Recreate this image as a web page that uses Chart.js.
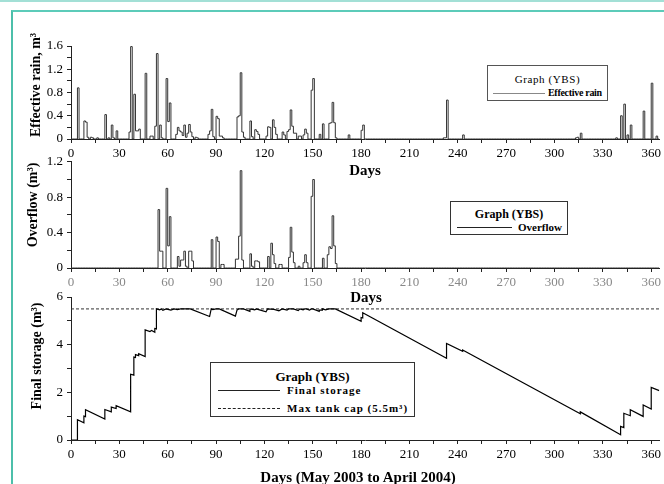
<!DOCTYPE html>
<html>
<head>
<meta charset="utf-8">
<script src="https://cdn.jsdelivr.net/npm/chart.js@4.4.1/dist/chart.umd.min.js"></script>
<style>
  body { margin: 0; background: #fff; }
  #page { position: relative; width: 664px; height: 484px; overflow: hidden; background: #fff;
          font-family: "Liberation Serif", "DejaVu Serif", serif; color: #000; }
  canvas { position: absolute; left: 0; }
  .band { position: absolute; left: 0; top: 0; width: 664px; height: 2px; background: #a3e0d6; }
  .frame { position: absolute; left: 11px; top: 10px; width: 670px; height: 490px;
           border-left: 2px solid #4cbfaa; border-top: 2px solid #5ccbb9; }
  .ytitle { position: absolute; font-weight: bold; font-size: 14px; white-space: nowrap;
            transform: translate(-50%, -50%) rotate(-90deg); z-index: 5; }
  .xtitle { position: absolute; font-weight: bold; font-size: 15px; white-space: nowrap;
            transform: translate(-50%, -50%); z-index: 5; }
  .legend { position: absolute; border: 1px solid #333; background: #fff; box-sizing: border-box; z-index: 6; }
  .legend .ttl { position: absolute; left: 0; right: 0; text-align: center; white-space: nowrap;
                 line-height: 14px; height: 14px; }
  .legend .row { position: absolute; display: flex; align-items: center; height: 14px; white-space: nowrap; }
  .legend .smp { display: block; height: 0; flex: none; }
  .legend .lbl { display: block; font-weight: bold; line-height: 14px; }
</style>
</head>
<body>
<div id="page">
  <div class="band"></div>
  <div class="frame"></div>

  <canvas id="rainChart" width="664" height="170" style="top:0px"></canvas>
  <canvas id="overflowChart" width="664" height="140" style="top:150px"></canvas>
  <canvas id="storageChart" width="664" height="199" style="top:285px"></canvas>

  <div class="ytitle" style="left:36px;top:85px">Effective rain, m³</div>
  <div class="ytitle" style="left:33px;top:205px">Overflow (m³)</div>
  <div class="ytitle" style="left:37px;top:356px">Final storage (m³)</div>

  <div class="xtitle" style="left:365px;top:170px">Days</div>
  <div class="xtitle" style="left:366px;top:297px">Days</div>
  <div class="xtitle" style="left:358px;top:477px">Days (May 2003 to April 2004)</div>

  <div class="legend" style="left:487px;top:65px;width:121px;height:36px;border-color:#555">
    <div class="ttl" style="top:6px;font-size:11px;letter-spacing:0.6px">Graph (YBS)</div>
    <div class="row" style="left:5px;top:20px">
      <span class="smp" style="width:52px;border-top:1px solid #888;margin-right:3px"></span>
      <span class="lbl" style="font-size:10px;letter-spacing:-0.3px">Effective rain</span>
    </div>
  </div>

  <div class="legend" style="left:450px;top:201px;width:118px;height:34px">
    <div class="ttl" style="top:5px;font-size:12px;font-weight:bold">Graph (YBS)</div>
    <div class="row" style="left:6px;top:18px">
      <span class="smp" style="width:55px;border-top:1px solid #222;margin-right:6px"></span>
      <span class="lbl" style="font-size:11px">Overflow</span>
    </div>
  </div>

  <div class="legend" style="left:210px;top:362px;width:205px;height:55px">
    <div class="ttl" style="top:7px;font-size:13px;font-weight:bold">Graph (YBS)</div>
    <div class="row" style="left:7px;top:20px">
      <span class="smp" style="width:62px;border-top:1px solid #222;margin-right:7px"></span>
      <span class="lbl" style="font-size:11px;letter-spacing:1px">Final storage</span>
    </div>
    <div class="row" style="left:7px;top:38px">
      <span class="smp" style="width:62px;border-top:1px dashed #222;margin-right:7px"></span>
      <span class="lbl" style="font-size:11px;letter-spacing:1px">Max tank cap (5.5m³)</span>
    </div>
  </div>
</div>

<script>
// days of the year with rain / overflow (all other days are zero)
var rainDays = [4, 8, 9, 10, 12, 13, 16, 21, 23, 25, 26, 28, 36, 37, 39, 40, 41, 42, 46, 49, 50, 52, 53, 55, 56,
    59, 60, 61, 65, 66, 67, 68, 69, 70, 71, 72, 73, 74, 75, 77, 78, 85, 86, 87, 88, 90, 91, 92, 93, 94,
    103, 104, 105, 106, 107, 111, 112, 114, 115, 116, 121, 122, 123, 125, 126, 127, 131, 132, 134, 135,
    136, 137, 138, 139, 141, 142, 144, 145, 146, 149, 150, 154, 156, 160, 161, 162, 163, 164, 172, 180, 181,
    231, 232, 233, 243, 313, 314, 316, 338, 341, 343, 345, 347, 355, 360, 363];
var rainValues = [0.88, 0.31, 0.29, 0.03, 0.03, 0.02, 0.02, 0.42, 0.02, 0.24, 0.02, 0.14, 0.12, 1.59, 0.77, 0.14, 0.14, 0.17, 1.13, 0.05, 0.05, 0.22, 1.47, 0.24, 0.02,
    1.04, 0.3, 0.62, 0.08, 0.2, 0.14, 0.12, 0.06, 0.24, 0.03, 0.1, 0.25, 0.12, 0.04, 0.03, 0.02, 0.08, 0.14, 0.51, 0.04, 0.39, 0.35, 0.05, 0.05, 0.02,
    0.38, 0.4, 1.14, 0.12, 0.03, 0.31, 0.04, 0.16, 0.13, 0.08, 0.05, 0.21, 0.2, 0.33, 0.2, 0.08, 0.12, 0.07, 0.13, 0.16,
    0.5, 0.22, 0.1, 0.1, 0.05, 0.05, 0.07, 0.17, 0.1, 0.84, 1.04, 0.08, 0.26, 0.27, 0.28, 0.63, 0.28, 0.02, 0.07, 0.15, 0.24,
    0.02, 0.02, 0.67, 0.07, 0.02, 0.03, 0.1, 0.02, 0.4, 0.6, 0.07, 0.24, 0.48, 0.96, 0.05];

var overflowDays = [54, 55, 56, 59, 60, 61, 66, 67, 68, 69, 70, 71, 73, 74, 75, 87, 90, 91, 93, 94,
    102, 103, 104, 105, 106, 111, 112, 114, 115, 116, 122, 124, 125, 126, 129, 130, 135, 136, 137, 138,
    141, 144, 145, 146, 149, 150, 156, 159, 160, 161, 162, 163, 164];
var overflowValues = [0.66, 0.19, 0.19, 0.9, 0.25, 0.58, 0.13, 0.02, 0.09, 0.09, 0.19, 0.02, 0.19, 0.19, 0.08, 0.32, 0.35, 0.3, 0.04, 0.04,
    0.1, 0.1, 0.36, 1.1, 0.09, 0.16, 0.02, 0.08, 0.08, 0.07, 0.13, 0.28, 0.15, 0.05, 0.04, 0.04, 0.12, 0.46, 0.18, 0.06,
    0.02, 0.06, 0.15, 0.06, 0.81, 1.0, 0.11, 0.15, 0.24, 0.22, 0.59, 0.25, 0.05];

// final storage, read as the corners of the curve (repeated day = jump)
var storageDays = [0, 4, 4, 8, 8, 9, 9, 21, 21, 25, 25, 28, 28, 37, 37, 39, 39, 40, 40, 42, 42, 46, 46, 49, 50, 52, 52, 53, 53,
    55, 56, 57, 59, 62, 64, 66, 68, 74, 86, 87, 88, 90, 92, 102, 103, 104, 107, 111, 111, 114, 115, 117, 121, 122,
    126, 129, 131, 134, 135, 138, 141, 142, 144, 145, 146, 148, 149, 150, 154, 154, 156, 156, 158, 160, 164,
    180, 180, 181, 181, 233, 233, 243, 243, 316, 316, 341, 341, 343, 343, 347, 347, 355, 355, 360, 360, 365];
var storageValues = [0, 0, 0.85, 0.72, 1.0, 0.98, 1.27, 0.88, 1.28, 1.18, 1.38, 1.32, 1.44, 1.18, 2.76, 2.72, 3.48, 3.46, 3.58, 3.54, 3.62, 3.5, 4.62, 4.55, 4.6, 4.52, 4.68, 4.66, 5.5,
    5.46, 5.5, 5.44, 5.5, 5.45, 5.5, 5.47, 5.5, 5.5, 5.18, 5.5, 5.47, 5.5, 5.5, 5.2, 5.45, 5.5, 5.5, 5.4, 5.5, 5.46, 5.5, 5.46, 5.38, 5.5,
    5.48, 5.42, 5.5, 5.45, 5.5, 5.5, 5.43, 5.5, 5.46, 5.5, 5.5, 5.45, 5.5, 5.5, 5.4, 5.45, 5.45, 5.5, 5.46, 5.5, 5.5,
    4.98, 5.14, 5.12, 5.34, 3.43, 4.05, 3.72, 3.78, 1.1, 1.18, 0.22, 0.57, 0.52, 1.12, 1.02, 1.27, 0.99, 1.47, 1.3, 2.21, 2.07];
var maxTankCap = 5.5;

var dayTickLabels = [0, 30, 60, 90, 120, 150, 180, 210, 240, 270, 300, 330, 360];
var rainTickLabels = [0, 0.4, 0.8, 1.2, 1.6];
var overflowTickLabels = [0, 0.4, 0.8, 1.2];
var storageTickLabels = [0, 2, 4, 6];

var tickFont = { family: 'Liberation Serif', size: 13 };

function daily(dayList, valueList) {
    var out = [];
    for (var d = 0; d <= 365; d++) out.push({ x: d, y: 0 });
    dayList.forEach(function (d, i) { out[d].y = valueList[i]; });
    return out;
}

function pairs(xs, ys) {
    return xs.map(function (x, i) { return { x: x, y: ys[i] }; });
}

function hasTick(list, v) {
    return list.some(function (t) { return Math.abs(t - v) < 1e-6; });
}

function xAxis(color, height) {
    return {
        type: 'linear', min: 0, max: 365,
        ticks: {
            stepSize: 15, includeBounds: false, autoSkip: false, maxRotation: 0, padding: 3,
            color: color, font: tickFont,
            callback: function (v) { return hasTick(dayTickLabels, v) ? String(v) : ''; }
        },
        grid: { drawOnChartArea: false, tickLength: 4, color: '#222' },
        border: { color: '#222' },
        afterFit: function (s) { s.height = height; }
    };
}

function yAxis(max, step, labels, digits) {
    return {
        min: 0, max: max,
        ticks: {
            stepSize: step, autoSkip: false, padding: 4, color: '#000', font: tickFont,
            callback: function (v) {
                if (!hasTick(labels, v)) return '';
                return v === 0 ? '0' : v.toFixed(digits);
            }
        },
        grid: { drawOnChartArea: false, tickLength: 4, color: '#222' },
        border: { color: '#222' },
        afterFit: function (s) { s.width = 71; }
    };
}

function baseOptions(padTop, xs, ys) {
    return {
        responsive: false, animation: false, devicePixelRatio: 1,
        layout: { padding: { top: padTop, right: 2, left: 0, bottom: 0 } },
        plugins: { legend: { display: false }, tooltip: { enabled: false } },
        elements: { point: { radius: 0 } },
        scales: { x: xs, y: ys }
    };
}

new Chart(document.getElementById('rainChart').getContext('2d'), {
    type: 'line',
    data: { datasets: [{
        label: 'Effective rain', data: daily(rainDays, rainValues), stepped: true,
        borderColor: '#333', borderWidth: 1, fill: false
    }] },
    options: baseOptions(46, xAxis('#000', 31), yAxis(1.6, 0.2, rainTickLabels, 1))
});

new Chart(document.getElementById('overflowChart').getContext('2d'), {
    type: 'line',
    data: { datasets: [{
        label: 'Overflow', data: daily(overflowDays, overflowValues), stepped: true,
        borderColor: '#333', borderWidth: 1, fill: false
    }] },
    options: baseOptions(9, xAxis('#888', 22), yAxis(1.2, 0.2, overflowTickLabels, 1))
});

new Chart(document.getElementById('storageChart').getContext('2d'), {
    type: 'line',
    data: { datasets: [
        { label: 'Final storage', data: pairs(storageDays, storageValues),
          borderColor: '#000', borderWidth: 1.2, fill: false, tension: 0 },
        { label: 'Max tank cap (5.5m³)', data: [{ x: 0, y: maxTankCap }, { x: 365, y: maxTankCap }],
          borderColor: '#333', borderWidth: 1, borderDash: [3, 2], fill: false }
    ] },
    options: baseOptions(12, xAxis('#000', 44), yAxis(6, 1, storageTickLabels, 0))
});
</script>
</body>
</html>
